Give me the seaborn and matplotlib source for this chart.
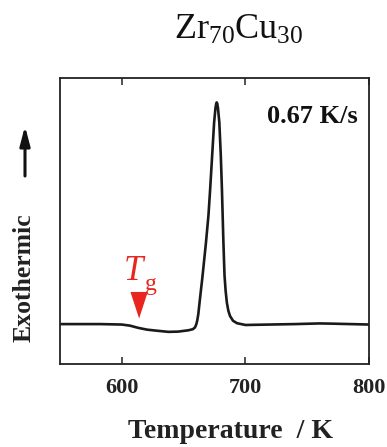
import matplotlib
matplotlib.use("Agg")
import matplotlib.pyplot as plt
from matplotlib.patches import Polygon
import pandas as pd
import seaborn as sns

# DSC trace of Zr70Cu30 at 0.67 K/s (temperature in K, heat-flow signal in arbitrary units)
temperature = [550, 582.4, 600.0, 606.6, 613.3, 620.4, 626.9, 637.6, 645.5, 653.8,
               657.5, 659.2, 660.2, 661.0, 661.9, 662.9, 665.3, 668.1, 670.1, 671.5,
               673.1, 674.7, 675.8, 676.4, 676.8, 677.2, 677.8, 678.9, 680.1, 681.0,
               681.6, 682.2, 683.1, 684.0, 685.0, 686.2, 687.6, 690.0, 693.2, 700.0,
               720.0, 740.0, 760.0, 770.0, 785.0, 800.0]
signal = [0.0, 0.0, -0.002, -0.007, -0.017, -0.025, -0.029, -0.035, -0.034, -0.028,
          -0.023, -0.015, -0.002, 0.015, 0.045, 0.097, 0.216, 0.368, 0.49, 0.61,
          0.76, 0.91, 0.975, 0.995, 1.0, 0.995, 0.975, 0.91, 0.76, 0.61,
          0.49, 0.37, 0.22, 0.15, 0.097, 0.06, 0.036, 0.015, 0.004, -0.004,
          -0.002, 0.0, 0.003, 0.002, 0.0, -0.002]

x_ticks = [600, 700, 800]
tg_temperature = 614
heating_rate = "0.67 K/s"
alloy = r"Zr$_{70}$Cu$_{30}$"

sns.set_theme(style="ticks")
plt.rcParams["font.family"] = ["Liberation Serif", "DejaVu Serif"]
plt.rcParams["mathtext.fontset"] = "custom"
plt.rcParams["mathtext.rm"] = "Liberation Serif"
plt.rcParams["mathtext.it"] = "Liberation Serif:italic"
plt.rcParams["mathtext.bf"] = "Liberation Serif:bold"

W, H = 387, 447
fig = plt.figure(figsize=(W / 100, H / 100), dpi=100)
ax = fig.add_axes([60 / W, 1 - 364 / H, (369 - 60) / W, (364 - 78) / H])

df = pd.DataFrame({"T": temperature, "dsc": signal})
sns.lineplot(data=df, x="T", y="dsc", ax=ax, color="#1a1a1a", lw=1.9,
             estimator=None, sort=False)

ax.set_xlim(550, 800)
ax.set_ylim(-0.18, 1.11)
ax.set_xticks(x_ticks)
ax.set_xticklabels([str(t) for t in x_ticks], fontweight="bold", fontsize=16,
                   color="#222222")
ax.set_yticks([])
ax.tick_params(axis="x", direction="in", length=5, width=1.2, top=True,
               pad=10, colors="#333333", labelcolor="#222222")
for s in ax.spines.values():
    s.set_linewidth(1.3)
    s.set_color("#222222")
ax.set_xlabel("")
ax.set_ylabel("")

# axis titles
fig.text(230 / W, 1 - 431 / H, "Temperature  / K", ha="center", va="center",
         fontsize=20, fontweight="bold", color="#222222")
fig.text(24 / W, 1 - 278 / H, "Exothermic", ha="center", va="center",
         rotation=90, fontsize=18.5, fontweight="bold", color="#222222")
fig.add_artist(matplotlib.patches.FancyArrowPatch(
    (25 / W, 1 - 176 / H), (25 / W, 1 - 126 / H), transform=fig.transFigure,
    arrowstyle="-|>,head_length=1.15,head_width=0.3", lw=2.2, color="#111111",
    mutation_scale=10, shrinkA=0, shrinkB=0))

# title and rate
fig.text(239 / W, 1 - 30 / H, alloy, ha="center", va="center", fontsize=26,
         color="#111111")
ax.text(0.963, 0.865, heating_rate, transform=ax.transAxes, ha="right",
        va="center", fontsize=19, fontweight="bold", color="#111111")

# glass transition marker
red = "#e8261f"
ax.text(tg_temperature + 5.5, 0.165, r"$T$", ha="right", va="bottom", fontsize=25,
        color=red)
ax.text(tg_temperature + 4.8, 0.13, "g", ha="left", va="bottom", fontsize=17,
        color=red)
tri_top = 0.145
tri_tip = 0.025
ax.add_patch(Polygon([[tg_temperature - 7, tri_top], [tg_temperature + 7, tri_top],
                      [tg_temperature, tri_tip]], closed=True, color=red, lw=0))

fig.savefig("out.png", dpi=100)
